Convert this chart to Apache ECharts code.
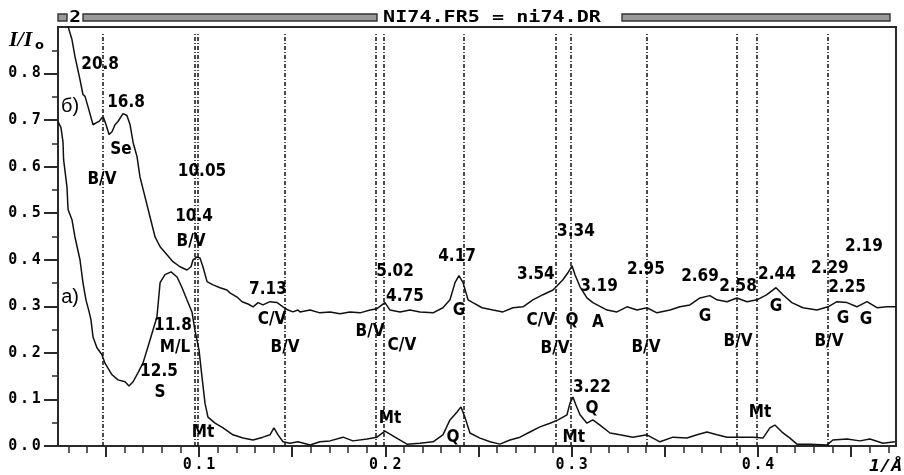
<!DOCTYPE html>
<html><head><meta charset="utf-8">
<script src="https://cdn.jsdelivr.net/npm/echarts@6.0.0/dist/echarts.min.js"></script>
<style>html,body{margin:0;padding:0;background:#fff}#c{width:904px;height:475px}</style>
</head><body><div id="c"></div>
<script>
// upper curve (б)
const curveB = [
[0.0294,0.905],[0.0318,0.873],[0.0334,0.837],[0.0361,0.787],[0.0377,0.755],[0.0388,0.751],[0.0404,0.729],
[0.0431,0.690],[0.0452,0.695],[0.0463,0.697],[0.0485,0.708],[0.0501,0.690],[0.0517,0.669],[0.0533,0.675],
[0.0549,0.690],[0.0565,0.697],[0.0592,0.714],[0.0613,0.710],[0.0630,0.690],[0.0646,0.652],[0.0667,0.622],
[0.0683,0.578],[0.0710,0.535],[0.0737,0.492],[0.0764,0.449],[0.0791,0.428],[0.0828,0.411],[0.0860,0.396],
[0.0898,0.385],[0.0935,0.378],[0.0957,0.385],[0.0968,0.400],[0.0989,0.406],[0.1005,0.404],[0.1021,0.385],
[0.1043,0.353],[0.1075,0.346],[0.1113,0.340],[0.1150,0.335],[0.1166,0.329],[0.1204,0.320],[0.1231,0.310],
[0.1263,0.305],[0.1290,0.299],[0.1317,0.308],[0.1343,0.303],[0.1381,0.310],[0.1419,0.308],[0.1451,0.299],
[0.1478,0.292],[0.1504,0.288],[0.1531,0.292],[0.1542,0.288],[0.1596,0.292],[0.1649,0.286],[0.1703,0.288],
[0.1757,0.284],[0.1810,0.288],[0.1864,0.286],[0.1918,0.292],[0.1955,0.295],[0.1998,0.308],[0.2025,0.292],
[0.2079,0.288],[0.2132,0.292],[0.2186,0.288],[0.2256,0.286],[0.2309,0.297],[0.2347,0.314],[0.2374,0.351],
[0.2395,0.366],[0.2417,0.351],[0.2444,0.314],[0.2470,0.308],[0.2519,0.297],[0.2578,0.292],[0.2631,0.288],
[0.2685,0.297],[0.2739,0.299],[0.2792,0.314],[0.2846,0.325],[0.2900,0.335],[0.2953,0.357],[0.2980,0.372],
[0.3002,0.387],[0.3018,0.368],[0.3045,0.342],[0.3082,0.318],[0.3114,0.308],[0.3152,0.300],[0.3190,0.292],
[0.3243,0.288],[0.3297,0.299],[0.3351,0.292],[0.3404,0.297],[0.3458,0.286],[0.3528,0.292],[0.3581,0.299],
[0.3635,0.303],[0.3689,0.318],[0.3742,0.323],[0.3780,0.314],[0.3834,0.310],[0.3887,0.318],[0.3941,0.310],
[0.3995,0.314],[0.4048,0.325],[0.4097,0.340],[0.4134,0.325],[0.4182,0.308],[0.4241,0.297],[0.4317,0.292],
[0.4376,0.299],[0.4424,0.310],[0.4478,0.308],[0.4531,0.299],[0.4585,0.310],[0.4639,0.297],[0.4692,0.299],
[0.4741,0.299]
];
// lower curve (а)
const curveA = [
[0.0243,0.697],[0.0259,0.684],[0.0270,0.652],[0.0273,0.615],[0.0291,0.557],[0.0297,0.508],[0.0318,0.486],
[0.0334,0.449],[0.0361,0.400],[0.0377,0.351],[0.0393,0.314],[0.0410,0.288],[0.0420,0.271],[0.0431,0.234],
[0.0452,0.211],[0.0479,0.196],[0.0495,0.178],[0.0533,0.153],[0.0565,0.142],[0.0603,0.138],[0.0624,0.129],
[0.0646,0.138],[0.0672,0.157],[0.0699,0.178],[0.0726,0.213],[0.0753,0.249],[0.0774,0.277],[0.0791,0.351],
[0.0817,0.368],[0.0850,0.374],[0.0882,0.363],[0.0909,0.340],[0.0935,0.314],[0.0962,0.288],[0.0978,0.249],
[0.1000,0.206],[0.1016,0.148],[0.1032,0.092],[0.1048,0.062],[0.1086,0.049],[0.1129,0.039],[0.1182,0.024],
[0.1236,0.017],[0.1290,0.013],[0.1343,0.019],[0.1381,0.024],[0.1402,0.039],[0.1424,0.024],[0.1451,0.009],
[0.1488,0.006],[0.1531,0.009],[0.1596,0.002],[0.1649,0.009],[0.1703,0.011],[0.1773,0.019],[0.1826,0.011],
[0.1902,0.015],[0.1955,0.019],[0.1998,0.032],[0.2052,0.019],[0.2116,0.004],[0.2186,0.006],[0.2256,0.009],
[0.2309,0.024],[0.2347,0.056],[0.2385,0.073],[0.2406,0.084],[0.2427,0.062],[0.2454,0.028],[0.2508,0.017],
[0.2562,0.009],[0.2615,0.004],[0.2669,0.013],[0.2723,0.019],[0.2776,0.030],[0.2830,0.041],[0.2884,0.049],
[0.2927,0.056],[0.2975,0.067],[0.2991,0.092],[0.3007,0.105],[0.3023,0.088],[0.3045,0.067],[0.3082,0.049],
[0.3114,0.056],[0.3152,0.045],[0.3206,0.028],[0.3259,0.024],[0.3329,0.019],[0.3404,0.024],[0.3474,0.009],
[0.3544,0.019],[0.3619,0.017],[0.3673,0.024],[0.3726,0.030],[0.3780,0.024],[0.3834,0.019],[0.3903,0.019],
[0.3973,0.019],[0.4027,0.017],[0.4064,0.039],[0.4091,0.045],[0.4129,0.030],[0.4172,0.017],[0.4209,0.004],
[0.4279,0.004],[0.4370,0.002],[0.4402,0.013],[0.4478,0.015],[0.4547,0.011],[0.4601,0.015],[0.4671,0.006],
[0.4735,0.009]
];
// dashed reference lines (1/Å)
const refLines = [0.0485,0.0978,0.0995,0.1462,0.1950,0.1993,0.2423,0.2916,0.2997,0.3405,0.3888,0.3995,0.4376];
const refTop = 0.887;
// peak / phase annotations [text, x, y]
const peakLabels = [
['20.8',0.0469,0.819],['16.8',0.0608,0.738],['Se',0.0581,0.637],['B/V',0.0479,0.572],
['10.05',0.1016,0.589],['10.4',0.0973,0.492],['B/V',0.0957,0.439],['7.13',0.1370,0.335],
['C/V',0.1392,0.271],['B/V',0.1462,0.211],['11.8',0.0860,0.258],['M/L',0.0871,0.211],
['12.5',0.0785,0.159],['S',0.0791,0.114],['Mt',0.1021,0.028],['5.02',0.2052,0.374],
['4.75',0.2105,0.320],['4.17',0.2385,0.406],['G',0.2395,0.290],['3.54',0.2808,0.368],
['3.34',0.3023,0.460],['3.19',0.3147,0.342],['C/V',0.2835,0.269],['Q',0.3002,0.269],
['A',0.3141,0.265],['B/V',0.2911,0.209],['3.22',0.3109,0.125],['Q',0.3109,0.080],
['Mt',0.3012,0.019],['B/V',0.1918,0.245],['C/V',0.2089,0.215],['Mt',0.2025,0.058],
['Q',0.2363,0.019],['B/V',0.3399,0.211],['B/V',0.3893,0.224],['B/V',0.4381,0.224],
['Mt',0.4011,0.071],['2.95',0.3399,0.378],['2.69',0.3689,0.363],['2.58',0.3893,0.342],
['2.44',0.4102,0.368],['2.29',0.4386,0.381],['2.25',0.4478,0.340],['2.19',0.4569,0.428],
['G',0.3716,0.277],['G',0.4097,0.299],['G',0.4456,0.273],['G',0.4580,0.271]
];
const curveTags = [['б)',0.0308,0.729],['а)',0.0308,0.320]];
const xTickLabels = [0.1,0.2,0.3,0.4];
const xMajorTicks = [0.05,0.1,0.15,0.2,0.25,0.3,0.35,0.4,0.45];
const xMinorTicks = [0.03,0.04,0.05,0.06,0.07,0.08,0.09,0.1,0.11,0.12,0.13,0.14,0.15,0.16,0.17,0.18,0.19,0.2,
 0.21,0.22,0.23,0.24,0.25,0.26,0.27,0.28,0.29,0.3,0.31,0.32,0.33,0.34,0.35,0.36,0.37,0.38,0.39,0.4,
 0.41,0.42,0.43,0.44,0.45,0.46,0.47];
const yTickLabels = [0,0.1,0.2,0.3,0.4,0.5,0.6,0.7,0.8];
const yMinorTicks = [0.05,0.15,0.25,0.35,0.45,0.55,0.65,0.75,0.85];
const titleText = 'NI74.FR5 = ni74.DR';

const X_MIN = 0.0243, X_MAX = 0.4741, Y_MIN = 0, Y_MAX = 0.9;
const ink = '#111';
const mono = '"DejaVu Sans Mono", "Liberation Mono", monospace';
const narrow = '"Liberation Sans Narrow", "DejaVu Sans Condensed", "Liberation Sans", sans-serif';
const charBoxes = v => v.toFixed(1).split('').map(c => '{c|' + c + '}').join('');
const rich = {c:{width:11.7, align:'center', fontFamily:mono, fontWeight:'bold', fontSize:15, color:'#000'}};

const chart = echarts.init(document.getElementById('c'), null, {renderer:'canvas'});
const baseX = {type:'value', min:X_MIN, max:X_MAX, position:'bottom', splitLine:{show:false}};
const baseY = {type:'value', min:Y_MIN, max:Y_MAX, position:'left', splitLine:{show:false}};
const labelSeries = (list, lab) => ({
  type:'scatter', symbolSize:0, silent:true, z:5,
  itemStyle:{color:'#000', opacity:1},
  data:list.map(d => ({name:d[0], value:[d[1], d[2]]})),
  label:Object.assign({show:true, position:'inside', formatter:'{b}', color:'#000', opacity:1,
    textBorderWidth:0, textShadowBlur:0}, lab),
  emphasis:{disabled:true}
});
chart.setOption({
  animation:false,
  backgroundColor:'#fff',
  grid:{left:58, right:8, top:27, bottom:29, show:true, borderColor:'#2a2a2a', borderWidth:2},
  xAxis:[
    Object.assign({}, baseX, {
      axisLine:{show:true, lineStyle:{color:'#2a2a2a', width:2}},
      axisTick:{show:true, customValues:xMajorTicks, length:11, lineStyle:{color:'#2a2a2a', width:2}},
      axisLabel:{show:true, customValues:xTickLabels, margin:12, formatter:charBoxes, rich:rich}
    }),
    Object.assign({}, baseX, {
      axisLine:{show:false},
      axisTick:{show:true, customValues:xMinorTicks, length:7, lineStyle:{color:'#2a2a2a', width:1.5}},
      axisLabel:{show:false}
    })
  ],
  yAxis:[
    Object.assign({}, baseY, {
      axisLine:{show:true, lineStyle:{color:'#2a2a2a', width:2}},
      axisTick:{show:true, customValues:yTickLabels, length:14, lineStyle:{color:'#2a2a2a', width:2}},
      axisLabel:{show:true, customValues:yTickLabels, margin:16, formatter:charBoxes, rich:rich}
    }),
    Object.assign({}, baseY, {
      axisLine:{show:false},
      axisTick:{show:true, customValues:yMinorTicks, length:6, lineStyle:{color:'#2a2a2a', width:1.5}},
      axisLabel:{show:false}
    })
  ],
  series:[
    {type:'line', data:curveB, showSymbol:false, symbol:'none', clip:true,
     lineStyle:{color:ink, width:1.5},
     markLine:{silent:true, symbol:['none','none'], label:{show:false},
       lineStyle:{color:ink, width:1.5, type:[4,2,1,2]},
       data:refLines.map(x => [{coord:[x, Y_MIN]}, {coord:[x, refTop]}])}},
    {type:'line', data:curveA, showSymbol:false, symbol:'none', clip:true,
     lineStyle:{color:ink, width:1.5}},
    labelSeries(peakLabels, {fontFamily:narrow, fontWeight:'bold', fontSize:17}),
    labelSeries(curveTags, {fontFamily:'"Liberation Sans", Arial, sans-serif', fontSize:20})
  ],
  graphic:[
    {type:'rect', shape:{x:58, y:14, width:9, height:7}, style:{fill:'#9a9a9a', stroke:'#333', lineWidth:1.4}},
    {type:'text', x:75, y:18, scaleX:1.3, style:{text:'2', font:'bold 15px ' + mono, fill:'#000', textAlign:'center', textVerticalAlign:'middle'}},
    {type:'rect', shape:{x:83, y:14, width:294, height:7}, style:{fill:'#9a9a9a', stroke:'#333', lineWidth:1.4}},
    {type:'text', x:492, y:18, scaleX:1.34, style:{text:titleText, font:'bold 15px ' + mono, fill:'#000', textAlign:'center', textVerticalAlign:'middle'}},
    {type:'rect', shape:{x:622, y:14, width:268, height:7}, style:{fill:'#9a9a9a', stroke:'#333', lineWidth:1.4}},
    {type:'text', x:9, y:40, style:{text:'I/I', font:'bold italic 22px "Liberation Serif", serif', fill:'#000', textVerticalAlign:'middle'}},
    {type:'text', x:35, y:46, style:{text:'o', font:'bold 13px "DejaVu Sans", sans-serif', fill:'#000', textVerticalAlign:'middle'}},
    {type:'text', x:869, y:467, scaleX:1.15, style:{text:'1/Å', font:'bold italic 16px ' + mono, fill:'#000', textVerticalAlign:'middle'}}
  ]
});
</script></body></html>
